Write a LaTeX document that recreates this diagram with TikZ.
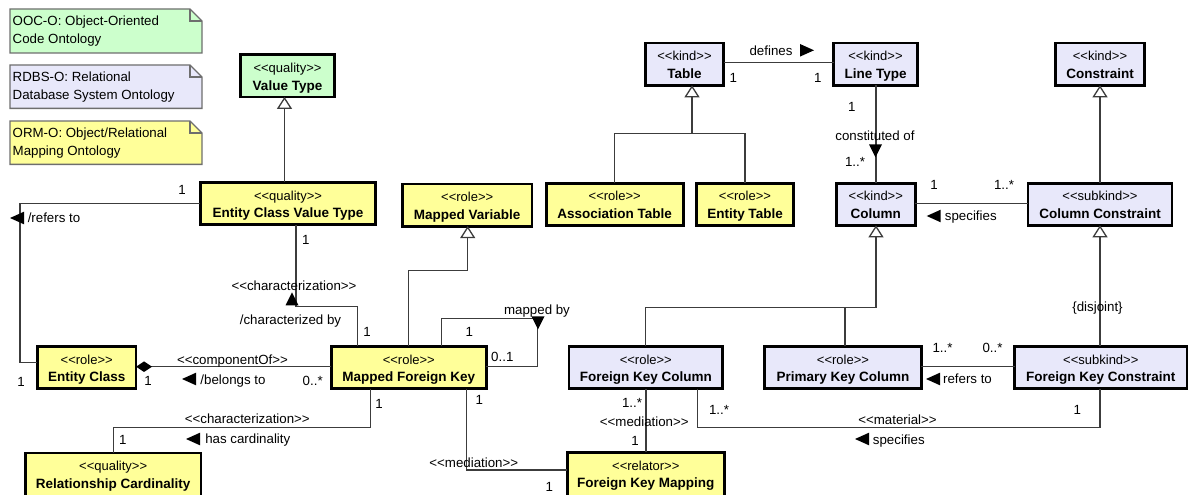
\documentclass[tikz,border=0pt]{standalone}
\usepackage{fontspec}
\setmainfont{Liberation Sans}[Ligatures=TeXOff]
\usetikzlibrary{arrows.meta,calc}

\definecolor{ormfill}{HTML}{FFFF99}
\definecolor{rdbsfill}{HTML}{E8E8FA}
\definecolor{oocfill}{HTML}{CCFFCC}
\definecolor{wirec}{HTML}{3C3C3C}
\definecolor{notec}{HTML}{6E6E6E}

\tikzset{
  cls/.style={draw=black, line width=2.8pt, rectangle, inner sep=0pt, outer sep=0pt,
              minimum height=42.2pt, anchor=north},
  stereo/.style={anchor=base, inner sep=0pt, font=\fontsize{13}{16}\selectfont},
  clsname/.style={anchor=base, inner sep=0pt, font=\fontsize{13.5}{16}\selectfont\bfseries},
  lbl/.style={inner sep=0pt, text height=9.7pt, text depth=2.7pt, yshift=-0.8pt,
              font=\fontsize{13.3}{16}\selectfont},
  conn/.style={draw=wirec, line width=1.5pt},
  gen/.style={conn, -{Triangle[open, fill=white, length=12pt, width=15pt, line width=1.3pt]}},
  compo/.style={conn, {Diamond[fill=black, color=black, length=16pt, width=10.5pt]}-},
  notebox/.style={draw=notec, line width=1.4pt},
  notetext/.style={anchor=north west, align=left, inner sep=0pt,
                   font=\fontsize{13.3}{17.3}\selectfont},
}

% class box: name, centre x, top y, width, style, stereotype, title
\newcommand\umlclass[7]{%
  \node[cls, #5, minimum width=#4] (#1) at (#2,#3+1.4) {};
  \node[stereo] (#1-st) at (#2,#3+19) {#6};
  \node[clsname] (#1-nm) at (#2,#3+36.8) {#7};
}
% note with folded corner: name, x1, y1, x2, y2, fill, text
\newcommand\umlnote[7]{%
  \filldraw[notebox, fill=#6] (#2,#3) -- (#4-12,#3) -- (#4,#3+12) -- (#4,#5) -- (#2,#5) -- cycle;
  \draw[notebox] (#4-12,#3) -- (#4-12,#3+12) -- (#4,#3+12);
  \node[notetext] (#1) at (#2+2.5,#3+6.7) {\rule{0pt}{10pt}#7};
}
% reading-direction triangles, given by their tip
\newcommand\dirL[2]{\fill[black] (#1,#2) -- ++(14,-6.3) -- ++(0,12.6) -- cycle;}
\newcommand\dirR[2]{\fill[black] (#1,#2) -- ++(-14,-6.3) -- ++(0,12.6) -- cycle;}
\newcommand\dirU[2]{\fill[black] (#1,#2) -- ++(-6.5,13) -- ++(13,0) -- cycle;}
\newcommand\dirD[2]{\fill[black] (#1,#2) -- ++(-6.5,-13) -- ++(13,0) -- cycle;}

\begin{document}
\begin{tikzpicture}[x=1pt,y=-1pt]
\useasboundingbox (0,0) rectangle (1189,495);
\clip (0,0) rectangle (1189,495);

% legend notes
\umlnote{nooc}{10}{9}{202}{53}{oocfill}{OOC-O: Object-Oriented\\Code Ontology}
\umlnote{nrdbs}{10}{65}{202}{108.3}{rdbsfill}{RDBS-O: Relational\\Database System Ontology}
\umlnote{norm}{10}{121}{202}{164.3}{ormfill}{ORM-O: Object/Relational\\Mapping Ontology}

% classes
\umlclass{vt}{287.5}{53.3}{94.4}{fill=oocfill}{<<quality>>}{Value Type}
\umlclass{ecvt}{288}{181}{175.4}{fill=ormfill}{<<quality>>}{Entity Class Value Type}
\umlclass{mv}{467.2}{182.5}{129.7}{fill=ormfill}{<<role>>}{Mapped Variable}
\umlclass{at}{614.7}{181.7}{136.9}{fill=ormfill}{<<role>>}{Association Table}
\umlclass{et}{745}{181.7}{97.4}{fill=ormfill}{<<role>>}{Entity Table}
\umlclass{tab}{684.5}{41.7}{78.4}{fill=rdbsfill}{<<kind>>}{Table}
\umlclass{lt}{875.5}{41.7}{83.7}{fill=rdbsfill}{<<kind>>}{Line Type}
\umlclass{con}{1100}{41.7}{89.4}{fill=rdbsfill}{<<kind>>}{Constraint}
\umlclass{col}{875.8}{181.7}{79}{fill=rdbsfill}{<<kind>>}{Column}
\umlclass{cc}{1100}{181.7}{144}{fill=rdbsfill}{<<subkind>>}{Column Constraint}
\umlclass{ec}{86.7}{345}{98.7}{fill=ormfill}{<<role>>}{Entity Class}
\umlclass{mfk}{408.8}{345}{155}{fill=ormfill}{<<role>>}{Mapped Foreign Key}
\umlclass{fkc}{645.8}{345}{153.7}{fill=rdbsfill}{<<role>>}{Foreign Key Column}
\umlclass{pkc}{843}{345}{156.9}{fill=rdbsfill}{<<role>>}{Primary Key Column}
\umlclass{fkcon}{1100.8}{345}{172.4}{fill=rdbsfill}{<<subkind>>}{Foreign Key Constraint}
\umlclass{fkm}{645.8}{451}{157}{fill=ormfill, minimum height=48pt}{<<relator>>}{Foreign Key Mapping}
\umlclass{rc}{113.2}{451.5}{175.7}{fill=ormfill, minimum height=48pt}{<<quality>>}{Relationship Cardinality}

% generalizations
\draw[gen] (ecvt.north -| 284.5,0) -- (vt.south -| 284.5,0);
\draw[gen] (mfk.north -| 408.3,0) |- (467.7,270.7) -- (mv.south -| 467.7,0);
\draw[gen] (at.north -| 614.3,0) |- (692,133.7) -- (tab.south -| 692,0);
\draw[conn] (et.north -| 745,0) |- (692,133.7);
\draw[gen] (fkc.north -| 645.7,0) |- (876,307.3) -- (col.south -| 876,0);
\draw[conn] (pkc.north -| 845,0) -- (845,307.3);
\draw[gen] (cc.north -| 1100,0) -- (con.south -| 1100,0);
\draw[gen] (fkcon.north -| 1100,0) -- (cc.south -| 1100,0);

% associations
\draw[conn] (ecvt.west |- 0,203.3) -- (20,203.3) -- (20,362.3) -- (ec.west |- 0,362.3);
\draw[conn] (ecvt.south -| 296,0) |- (357.3,306.7) -- (mfk.north -| 357.3,0);
\draw[compo] (ec.east |- 0,366.7) -- (mfk.west |- 0,366.7);
\draw[conn] (mfk.north -| 441.7,0) |- (537.7,318.3) |- (mfk.east |- 0,366.7);
\draw[conn] (mfk.south -| 370.7,0) |- (113.3,427.3) -- (rc.north -| 113.3,0);
\draw[conn] (mfk.south -| 466.7,0) |- (fkm.west |- 0,470);
\draw[conn] (fkc.south -| 646,0) -- (fkm.north -| 646,0);
\draw[conn] (fkcon.south -| 1100,0) |- (697.7,427.3) -- (fkc.south -| 697.7,0);
\draw[conn] (fkcon.west |- 0,366.7) -- (pkc.east |- 0,366.7);
\draw[conn] (cc.west |- 0,203.3) -- (col.east |- 0,203.3);
\draw[conn] (lt.south -| 876,0) -- (col.north -| 876,0);
\draw[conn] (tab.east |- 0,62.7) -- (lt.west |- 0,62.7);

% reading directions
\dirL{10}{218}
\dirU{292}{292.3}
\dirL{182}{379}
\dirD{538}{329.3}
\dirL{186}{439}
\dirR{814}{50.3}
\dirD{875.5}{157.3}
\dirL{926.7}{216}
\dirL{926}{379}
\dirL{855}{439}

% association labels and multiplicities
\node[lbl] (m-ecvt-a) at (182,190) {1};
\node[lbl] (t-refers) at (54,218.3) {/refers to};
\node[lbl] (m-ec-a) at (21,381.7) {1};
\node[lbl] (m-ecvt-b) at (305.7,240) {1};
\node[lbl] (s-char-a) at (294,286) {<<characterization>>};
\node[lbl] (t-charby) at (290.5,320) {/characterized by};
\node[lbl] (m-mfk-a) at (367,332) {1};
\node[lbl] (s-comp) at (232.5,360) {<<componentOf>>};
\node[lbl] (m-ec-b) at (148,380.7) {1};
\node[lbl] (t-belongs) at (233,380) {/belongs to};
\node[lbl] (m-mfk-b) at (312.7,381) {0..*};
\node[lbl] (m-mfk-c) at (379,404) {1};
\node[lbl] (s-char-b) at (247.3,419.3) {<<characterization>>};
\node[lbl] (t-card) at (247.8,439.3) {has cardinality};
\node[lbl] (m-rc) at (122.7,440) {1};
\node[lbl] (t-mapped) at (537,310) {mapped by};
\node[lbl] (m-mfk-d) at (469.3,332.3) {1};
\node[lbl] (m-mfk-e) at (502.3,356.7) {0..1};
\node[lbl] (m-mfk-f) at (479.3,400) {1};
\node[lbl] (s-med-a) at (473.8,463.3) {<<mediation>>};
\node[lbl] (m-fkm-a) at (549.3,487.3) {1};
\node[lbl] (m-fkc-a) at (632,403.3) {1..*};
\node[lbl] (s-med-b) at (644.3,421.7) {<<mediation>>};
\node[lbl] (m-fkm-b) at (635,441) {1};
\node[lbl] (m-fkc-b) at (719,410) {1..*};
\node[lbl] (t-defines) at (771,51.7) {defines};
\node[lbl] (m-tab) at (733.3,77.7) {1};
\node[lbl] (m-lt-a) at (817.7,77.7) {1};
\node[lbl] (m-lt-b) at (851.7,106.7) {1};
\node[lbl] (t-constit) at (875,136) {constituted of};
\node[lbl] (m-col-a) at (855,162) {1..*};
\node[lbl] (m-col-b) at (934,185) {1};
\node[lbl] (m-cc) at (1004,185) {1..*};
\node[lbl] (t-spec-a) at (970.8,215.7) {specifies};
\node[lbl] (t-disj) at (1097.5,306.7) {\{disjoint\}};
\node[lbl] (m-pkc) at (942.5,348.3) {1..*};
\node[lbl] (m-fkcon-a) at (992.5,348.3) {0..*};
\node[lbl] (t-refers-b) at (967.5,379) {refers to};
\node[lbl] (m-fkcon-b) at (1077.3,410) {1};
\node[lbl] (s-mat) at (897.5,420) {<<material>>};
\node[lbl] (t-spec-b) at (898.8,440) {specifies};
\end{tikzpicture}
\end{document}
